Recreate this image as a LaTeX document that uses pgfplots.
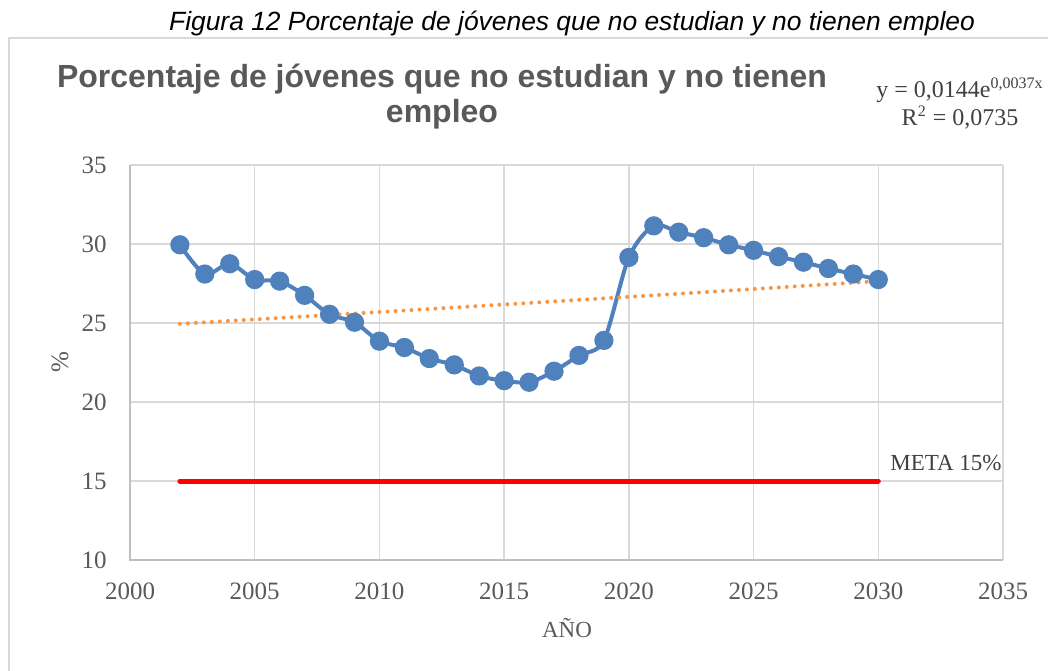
\documentclass[border=0pt]{standalone}
\usepackage{pgfplots}
\pgfplotsset{compat=1.18}
\usepackage{fontspec}
\setmainfont{Liberation Serif}
\newfontfamily\capfont{Liberation Sans}
\newfontfamily\titfont{Liberation Sans}
\definecolor{txtgray}{HTML}{595959}
\definecolor{eqgray}{HTML}{404040}
\definecolor{gridgray}{HTML}{D9D9D9}
\definecolor{axgray}{HTML}{BFBFBF}
\definecolor{xlblue}{HTML}{4F81BD}
\definecolor{xlorange}{HTML}{F79646}
\definecolor{xlred}{HTML}{FF0000}
\begin{document}
\begin{tikzpicture}
\useasboundingbox (0,0) rectangle (524pt,-335pt);
\begin{scope}
\clip (0,0) rectangle (524pt,-335pt);
\draw[gridgray, line width=0.75pt] (4.5pt,-340pt) -- (4.5pt,-19pt) -- (530pt,-19pt);
\node[anchor=base, inner sep=0pt, font=\capfont\itshape\fontsize{13.2}{15}\selectfont] at (286pt,-15pt) {Figura 12 Porcentaje de jóvenes que no estudian y no tienen empleo};
\node[anchor=base, inner sep=0pt, font=\titfont\bfseries\fontsize{16}{19}\selectfont, text=txtgray] at (221pt,-43.5pt) {Porcentaje de jóvenes que no estudian y no tienen};
\node[anchor=base, inner sep=0pt, font=\titfont\bfseries\fontsize{16}{19}\selectfont, text=txtgray] at (221pt,-61pt) {empleo};
\node[anchor=base, inner sep=0pt, font=\fontsize{12}{14}\selectfont, text=eqgray] at (480pt,-48.5pt) {y = 0,0144e\textsuperscript{0,0037x}};
\node[anchor=base, inner sep=0pt, font=\fontsize{12}{14}\selectfont, text=eqgray] at (480pt,-62.5pt) {R\textsuperscript{2} = 0,0735};
\begin{axis}[
  at={(65pt,-280pt)}, anchor=south west,
  scale only axis, width=436.5pt, height=197.5pt,
  xmin=2000, xmax=2035, ymin=10, ymax=35,
  xtick={2000,2005,...,2035}, ytick={10,15,...,35},
  /pgf/number format/1000 sep={},
  /pgf/number format/assume math mode=true,
  major tick length=0pt,
  grid=major,
  grid style={gridgray, line width=0.75pt},
  axis line style={draw=none},
  tick label style={font=\fontsize{12.5}{15}\selectfont, text=txtgray, inner sep=0pt},
  xticklabel style={anchor=north, yshift=-11pt},
  yticklabel style={anchor=east, xshift=-11.5pt},
  clip=false,
]
\draw[axgray, line width=0.75pt] (rel axis cs:0,1) -- (rel axis cs:0,0) -- (rel axis cs:1,0);
\addplot[xlblue, line width=2pt, smooth, tension=0.5, mark=*, mark size=3.8pt, mark options={fill=xlblue, draw=none}] coordinates {
(2002,29.95) (2003,28.1) (2004,28.75) (2005,27.75) (2006,27.65) (2007,26.75)
(2008,25.55) (2009,25.05) (2010,23.85) (2011,23.45) (2012,22.75) (2013,22.35)
(2014,21.65) (2015,21.35) (2016,21.25) (2017,21.95) (2018,22.95) (2019,23.9)
(2020,29.15) (2021,31.15) (2022,30.75) (2023,30.4) (2024,29.95) (2025,29.6)
(2026,29.2) (2027,28.85) (2028,28.45) (2029,28.1) (2030,27.75)
};
\addplot[xlred, line width=2.5pt, line cap=round] coordinates {(2002,15) (2030,15)};
\addplot[xlorange, line width=2pt, line cap=round, dash pattern=on 0pt off 4pt] coordinates {
(2002,24.95) (2009,25.6) (2016,26.27) (2023,26.95) (2030,27.65)
};
\end{axis}
\node[rotate=90, anchor=center, inner sep=0pt, font=\fontsize{12.5}{15}\selectfont, text=txtgray] at (30pt,-181pt) {\%};
\node[anchor=base, inner sep=0pt, font=\fontsize{11.5}{14}\selectfont, text=txtgray] at (283.5pt,-318.5pt) {AÑO};
\node[anchor=base west, inner sep=0pt, font=\fontsize{11.5}{14}\selectfont, text=eqgray] at (445pt,-235pt) {META 15\%};
\end{scope}
\end{tikzpicture}
\end{document}
